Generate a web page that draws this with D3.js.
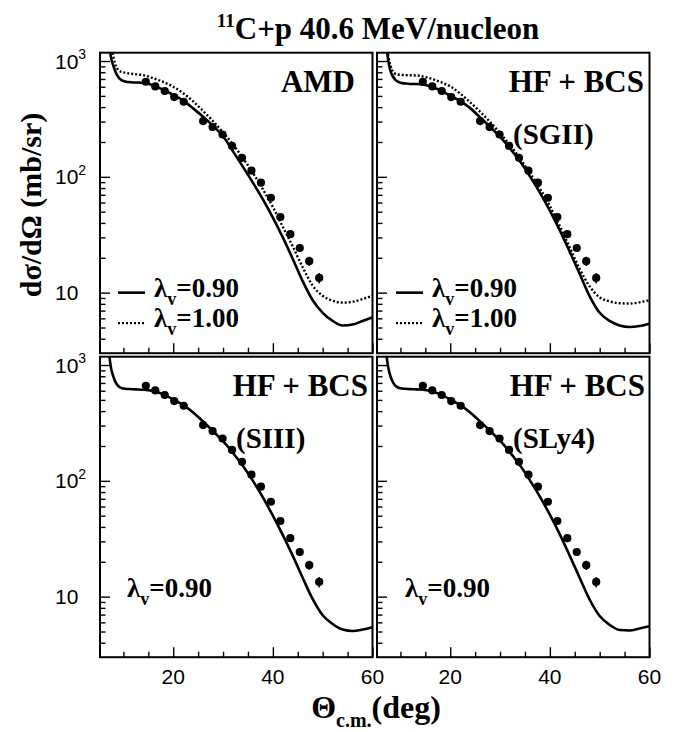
<!DOCTYPE html>
<html>
<head>
<meta charset="utf-8">
<script src="https://cdn.jsdelivr.net/npm/d3@7/dist/d3.min.js"></script>
<style>
  body { margin: 0; background: #fff; }
  svg { display: block; }
</style>
</head>
<body>
<script>
// Measured elastic cross sections, 11C + p at 40.6 MeV/nucleon
const thetaData = [14.5, 16.4, 18.3, 20.2, 22.1, 26.0, 27.9, 29.9, 31.8, 33.8, 35.7, 37.6, 39.6, 41.5, 43.5, 45.4, 47.3, 49.3];
const sigmaData = [662, 603, 551, 488, 445, 303, 269, 232, 185, 146, 113, 89, 66, 45, 32, 24.3, 18.7, 13.4];
const sigmaErr  = [26, 24, 22, 19, 17, 12, 10, 9, 7, 5.5, 4.5, 3.6, 2.7, 1.9, 1.5, 1.3, 1.7, 1.4];

// Folding-model calculations on a common angular grid (deg)
const thetaCalc = [7.0, 7.5, 8.0, 8.5, 9.0, 9.5, 10, 11, 12, 13, 14, 15, 16, 17, 18,
                   20, 22, 24, 26, 28, 30, 32, 34, 36, 38, 40, 42, 44, 46, 48, 50, 52, 54, 56, 58, 60];
const amdLam090 = [1650, 1080, 905, 790, 725, 690, 672, 658, 653, 652, 648, 635, 615, 590, 565,
                   510, 455, 390, 330, 275, 224, 166, 122, 89, 64, 44.5, 30, 19.5, 12.5, 8.6, 6.7, 5.7, 5.2, 5.3, 5.7, 6.1];
const amdLam100 = [2600, 1500, 1080, 905, 835, 808, 797, 783, 772, 764, 756, 736, 710, 686, 660,
                   600, 527, 448, 370, 302, 242, 190, 145, 108, 78, 55, 37, 25, 16.5, 11.5, 9.4, 8.5, 8.2, 8.35, 8.8, 9.4];
const sgiiLam090 = [1500, 1050, 820, 735, 688, 664, 650, 640, 634, 633, 632, 622, 604, 582, 558,
                    503, 450, 392, 326, 270, 221, 176, 136, 101, 73, 51, 34.5, 22.5, 14.5, 9.3, 6.7, 5.7, 5.2, 5.05, 5.15, 5.4];
const sgiiLam100 = [1700, 1150, 910, 810, 775, 765, 760, 756, 753, 751, 745, 728, 708, 685, 660,
                    605, 523, 440, 365, 298, 238, 188, 144, 107, 79, 56, 37.5, 24.5, 16, 11.3, 9.1, 8.4, 8.1, 8.05, 8.25, 8.6];
const siiiLam090 = [1400, 950, 790, 700, 655, 636, 626, 620, 617, 615, 612, 607, 597, 580, 558,
                    505, 450, 390, 325, 268, 220, 174, 134, 100, 72, 50, 34, 22.5, 14.5, 9.5, 6.9, 5.8, 5.2, 5.05, 5.2, 5.45];
const sly4Lam090 = [1450, 980, 800, 710, 662, 640, 630, 623, 619, 617, 614, 608, 597, 580, 558,
                    505, 450, 390, 326, 270, 222, 176, 136, 101, 73, 51, 34.5, 22.5, 14.5, 9.4, 6.8, 5.7, 5.15, 5.1, 5.3, 5.55];

// Axis ticks
const xMajorTicks = [20, 40, 60];
const xMinorTicks = [10, 15, 25, 30, 35, 45, 50, 55];
const yMajorTicks = [10, 100, 1000];
const yTickExponents = [1, 2, 3];
const yMinorTicks = [4, 5, 6, 7, 8, 9, 20, 30, 40, 50, 60, 70, 80, 90, 200, 300, 400, 500, 600, 700, 800, 900];

const W = 681, H = 732;
const serif = "'Liberation Serif', 'Times New Roman', Times, serif";
const sans = "'Liberation Sans', Arial, Helvetica, sans-serif";

const svg = d3.select("body").append("svg")
  .attr("width", W).attr("height", H)
  .attr("viewBox", `0 0 ${W} ${H}`);

const panelW = 272.5, panelH = 300.5;
const colX = [100, 377];
const rowY = [52.7, 356.7];

const x = d3.scaleLinear().domain([5.3, 60]).range([0, panelW]);
const y = d3.scaleLog().domain([3, 1180]).range([panelH, 0]);

const line = d3.line()
  .x(d => x(d[0]))
  .y(d => y(d[1]))
  .curve(d3.curveMonotoneX);

const panels = [
  { col: 0, row: 0, title: "AMD", titleX: 255, sub: null,
    curves: [{ v: amdLam090, dash: null }, { v: amdLam100, dash: "2,2" }],
    legend: "both", legX: 18 },
  { col: 1, row: 0, title: "HF + BCS", titleX: 267, sub: "(SGII)",
    curves: [{ v: sgiiLam090, dash: null }, { v: sgiiLam100, dash: "2,2" }],
    legend: "both", legX: 19 },
  { col: 0, row: 1, title: "HF + BCS", titleX: 268, sub: "(SIII)",
    curves: [{ v: siiiLam090, dash: null }],
    legend: "one", legX: 27 },
  { col: 1, row: 1, title: "HF + BCS", titleX: 268, sub: "(SLy4)",
    curves: [{ v: sly4Lam090, dash: null }],
    legend: "one", legX: 28 }
];

const defs = svg.append("defs");
defs.append("clipPath").attr("id", "panel-clip")
  .append("rect").attr("x", 0).attr("y", 0).attr("width", panelW).attr("height", panelH);

// lambda_v label: λ, subscript v, then "=value"
function lambdaLabel(g, lx, ly, value) {
  const t = g.append("text")
    .attr("x", lx).attr("y", ly)
    .attr("font-family", serif).attr("font-weight", "bold")
    .attr("font-size", 27).attr("fill", "#000");
  t.append("tspan").text("λ");
  t.append("tspan").attr("font-size", 18).attr("dy", 8).text("v");
  t.append("tspan").attr("dy", -8).text("=" + value);
}

panels.forEach(p => {
  const g = svg.append("g")
    .attr("transform", `translate(${colX[p.col]},${rowY[p.row]})`);

  // curves
  const cg = g.append("g").attr("clip-path", "url(#panel-clip)");
  p.curves.forEach(c => {
    const pts = thetaCalc.map((t, i) => [t, c.v[i]]);
    cg.append("path")
      .attr("d", line(pts))
      .attr("fill", "none")
      .attr("stroke", "#000")
      .attr("stroke-width", c.dash ? 2.4 : 2.6)
      .attr("stroke-dasharray", c.dash);
  });

  // data with error bars
  const dg = cg.append("g");
  thetaData.forEach((t, i) => {
    dg.append("line")
      .attr("x1", x(t)).attr("x2", x(t))
      .attr("y1", y(sigmaData[i] - sigmaErr[i]))
      .attr("y2", y(sigmaData[i] + sigmaErr[i]))
      .attr("stroke", "#000").attr("stroke-width", 1.5);
    dg.append("circle")
      .attr("cx", x(t)).attr("cy", y(sigmaData[i]))
      .attr("r", 4.1).attr("fill", "#000");
  });

  // inward ticks
  const yMaj = g.append("g").call(d3.axisLeft(y).tickValues(yMajorTicks).tickSize(-10).tickFormat(""));
  const yMin = g.append("g").call(d3.axisLeft(y).tickValues(yMinorTicks).tickSize(-5.5).tickFormat(""));
  const xMaj = g.append("g").attr("transform", `translate(0,${panelH})`)
    .call(d3.axisBottom(x).tickValues(xMajorTicks).tickSize(-10).tickFormat(""));
  const xMin = g.append("g").attr("transform", `translate(0,${panelH})`)
    .call(d3.axisBottom(x).tickValues(xMinorTicks).tickSize(-5.5).tickFormat(""));
  [yMaj, yMin, xMaj, xMin].forEach(a => {
    a.select(".domain").remove();
    a.selectAll(".tick line").attr("stroke", "#000").attr("stroke-width", 1.4);
  });

  // frame
  g.append("rect")
    .attr("x", 0).attr("y", 0).attr("width", panelW).attr("height", panelH)
    .attr("fill", "none").attr("stroke", "#000").attr("stroke-width", 2);

  // y tick labels on the left column
  if (p.col === 0) {
    yMajorTicks.forEach((v, i) => {
      const t = g.append("text")
        .attr("x", 55 - colX[0]).attr("y", y(v) + 7.5)
        .attr("font-family", sans).attr("font-size", 21).attr("fill", "#000");
      t.append("tspan").text("10");
      if (yTickExponents[i] > 1) {
        t.append("tspan").attr("font-size", 14).attr("dy", -9.5).text(yTickExponents[i]);
      }
    });
  }
  // x tick labels on the bottom row
  if (p.row === 1) {
    xMajorTicks.forEach(v => {
      g.append("text")
        .attr("x", x(v)).attr("y", panelH + 26.5)
        .attr("text-anchor", "middle")
        .attr("font-family", sans).attr("font-size", 21).attr("fill", "#000")
        .text(v);
    });
  }

  // panel titles
  g.append("text")
    .attr("x", p.titleX).attr("y", 39)
    .attr("text-anchor", "end")
    .attr("font-family", serif).attr("font-weight", "bold")
    .attr("font-size", 31).attr("fill", "#000")
    .text(p.title);
  if (p.sub) {
    g.append("text")
      .attr("x", 136).attr("y", 91)
      .attr("font-family", serif).attr("font-weight", "bold")
      .attr("font-size", 29).attr("fill", "#000")
      .text(p.sub);
  }

  // legend
  if (p.legend === "both") {
    g.append("line").attr("x1", p.legX).attr("x2", p.legX + 27)
      .attr("y1", y(10)).attr("y2", y(10))
      .attr("stroke", "#000").attr("stroke-width", 2.6);
    lambdaLabel(g, p.legX + 36, y(10) + 4.5, "0.90");
    g.append("line").attr("x1", p.legX).attr("x2", p.legX + 27)
      .attr("y1", y(10) + 30.5).attr("y2", y(10) + 30.5)
      .attr("stroke", "#000").attr("stroke-width", 2.4).attr("stroke-dasharray", "2,2");
    lambdaLabel(g, p.legX + 36, y(10) + 34.5, "1.00");
  } else {
    lambdaLabel(g, p.legX, y(10) + 0.5, "0.90");
  }
});

// figure title
const title = svg.append("text")
  .attr("x", 378).attr("y", 39)
  .attr("text-anchor", "middle")
  .attr("font-family", serif).attr("font-weight", "bold")
  .attr("font-size", 31).attr("fill", "#000");
title.append("tspan").attr("font-size", 19).attr("dy", -12).text("11");
title.append("tspan").attr("dy", 12).text("C+p 40.6 MeV/nucleon");

// y-axis title
svg.append("text")
  .attr("transform", "translate(41,205) rotate(-90)")
  .attr("text-anchor", "middle")
  .attr("font-family", serif).attr("font-weight", "bold")
  .attr("font-size", 30).attr("fill", "#000")
  .text("dσ/dΩ (mb/sr)");

// x-axis title
const xt = svg.append("text")
  .attr("x", 376).attr("y", 718)
  .attr("text-anchor", "middle")
  .attr("font-family", serif).attr("font-weight", "bold")
  .attr("font-size", 32).attr("fill", "#000");
xt.append("tspan").text("Θ");
xt.append("tspan").attr("font-size", 20).attr("dy", 9).text("c.m.");
xt.append("tspan").attr("dy", -9).text("(deg)");
</script>
</body>
</html>
